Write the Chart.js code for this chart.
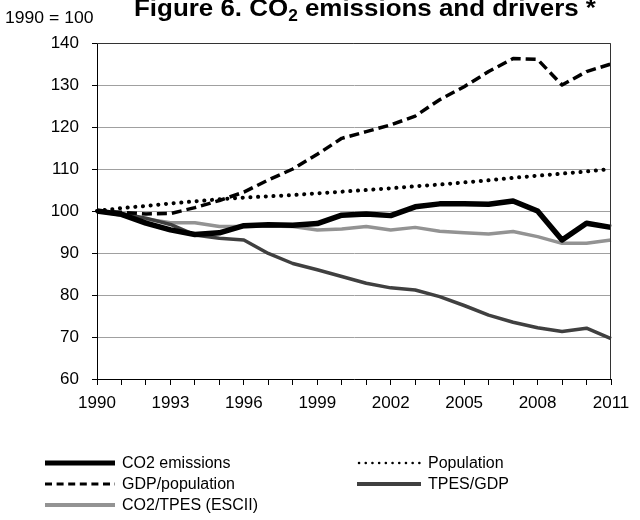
<!DOCTYPE html>
<html>
<head>
<meta charset="utf-8">
<script src="https://cdn.jsdelivr.net/npm/chart.js@4.4.1/dist/chart.umd.min.js"></script>
<style>
  body { margin: 0; background: #fff; font-family: "Liberation Sans", Arial, sans-serif; }
  #wrap { position: relative; width: 640px; height: 520px; overflow: hidden; }
  #chart { position: absolute; left: 0; top: 0; }
  #title { position: absolute; left: 0; width: 730px; top: -6px; text-align: center; font-weight: bold;
           font-size: 24px; color: #000; white-space: nowrap; transform: scaleX(1.08); transform-origin: 365px 0; }
  #title sub { font-size: 16px; vertical-align: -5px; line-height: 0; }
  #unit { position: absolute; left: 5px; top: 9px; font-size: 16px; color: #000; white-space: nowrap;
          transform: scaleX(1.1); transform-origin: 0 0; }
  .leg { position: absolute; font-size: 16px; color: #000; display: flex; align-items: center; height: 22px; white-space: nowrap; }
  .leg svg { margin-right: 7px; }
</style>
</head>
<body>
<div id="wrap">
  <canvas id="chart" width="640" height="520"></canvas>
  <div id="title">Figure 6. CO<sub>2</sub> emissions and drivers *</div>
  <div id="unit">1990 = 100</div>
  <div id="legend"></div>
</div>
<script>
const years = ["1990","1991","1992","1993","1994","1995","1996","1997","1998","1999","2000",
  "2001","2002","2003","2004","2005","2006","2007","2008","2009","2010","2011"];

const co2Emissions = [100, 99.2, 97.1, 95.5, 94.4, 94.8, 96.5, 96.7, 96.6, 97.0, 99.0,
  99.3, 98.9, 101.0, 101.7, 101.7, 101.6, 102.4, 100.0, 93.1, 97.1, 96.1];
const gdpPerPop = [100, 99.7, 99.3, 99.4, 100.8, 102.5, 104.5, 107.4, 110.0, 113.5, 117.3,
  118.9, 120.5, 122.6, 126.5, 129.6, 133.2, 136.3, 136.1, 130.0, 133.2, 135.0];
const population = [100, 100.7, 101.2, 101.8, 102.3, 102.8, 103.2, 103.5, 103.8, 104.2, 104.6,
  105.0, 105.4, 105.9, 106.3, 106.8, 107.3, 107.9, 108.4, 108.9, 109.4, 110.0];
const tpesPerGdp = [100, 99.4, 98.3, 96.8, 94.3, 93.5, 93.1, 89.9, 87.5, 86.0, 84.4,
  82.8, 81.7, 81.2, 79.6, 77.5, 75.2, 73.5, 72.2, 71.3, 72.1, 69.6];
const co2PerTpes = [100, 99.0, 98.1, 97.2, 97.2, 96.3, 96.3, 96.4, 96.3, 95.5, 95.7,
  96.3, 95.5, 96.1, 95.2, 94.8, 94.5, 95.1, 93.9, 92.3, 92.3, 93.1];

const yTicks = [60, 70, 80, 90, 100, 110, 120, 130, 140];

const seriesStyle = [
  { label: "CO2 emissions", data: co2Emissions, color: "#000000", width: 5.5, dash: [], cap: "butt" },
  { label: "GDP/population", data: gdpPerPop, color: "#000000", width: 3.5, dash: [10, 5], cap: "butt" },
  { label: "Population", data: population, color: "#000000", width: 4, dash: [0.1, 7.6], cap: "round" },
  { label: "TPES/GDP", data: tpesPerGdp, color: "#404040", width: 3.5, dash: [], cap: "butt" },
  { label: "CO2/TPES (ESCII)", data: co2PerTpes, color: "#939393", width: 3.5, dash: [], cap: "butt" }
];

const frame = {
  id: "frame",
  afterDatasetsDraw(chart) {
    const a = chart.chartArea, c = chart.ctx;
    c.save();
    c.strokeStyle = "#333";
    c.lineWidth = 1;
    c.beginPath();
    c.moveTo(a.left, a.top + 0.5);
    c.lineTo(a.right - 0.5, a.top + 0.5);
    c.lineTo(a.right - 0.5, a.bottom);
    c.stroke();
    c.restore();
  }
};

const tickFont = { family: "'Liberation Sans', Arial, sans-serif", size: 17 };

new Chart(document.getElementById("chart"), {
  type: "line",
  data: {
    labels: years,
    datasets: seriesStyle.map(s => ({
      label: s.label,
      data: s.data,
      borderColor: s.color,
      borderWidth: s.width,
      borderDash: s.dash,
      borderCapStyle: s.cap,
      borderJoinStyle: "round",
      pointRadius: 0,
      tension: 0,
      fill: false
    }))
  },
  options: {
    responsive: false,
    animation: false,
    layout: { padding: { left: 0, right: 29, top: 43, bottom: 0 } },
    plugins: { legend: { display: false }, tooltip: { enabled: false } },
    scales: {
      x: {
        offset: false,
        border: { color: "#000", width: 1 },
        grid: { drawOnChartArea: false, drawTicks: true, tickLength: 6, tickColor: "#000" },
        ticks: {
          autoSkip: false, maxRotation: 0, color: "#000", font: tickFont, padding: 8,
          callback: (v, i) => (i % 3 === 0 ? years[i] : "")
        },
        afterFit: s => { s.height = 141; }
      },
      y: {
        min: 60, max: 140,
        border: { color: "#000", width: 1 },
        grid: { color: "#a0a0a0", lineWidth: 1, tickLength: 5, tickColor: "#000" },
        afterBuildTicks: s => { s.ticks = yTicks.map(v => ({ value: v })); },
        ticks: { color: "#000", font: tickFont, padding: 13 },
        afterFit: s => { s.width = 97; }
      }
    }
  },
  plugins: [frame]
});

// legend drawn as html, two columns, first column holds three entries
const legendPos = [
  { x: 45, y: 452 }, { x: 45, y: 473 }, { x: 357, y: 452 }, { x: 357, y: 473 }, { x: 45, y: 494 }
];
const legendEl = document.getElementById("legend");
seriesStyle.forEach((s, idx) => {
  const p = legendPos[idx];
  const lw = idx === 2 ? 2.5 : idx === 0 ? 5 : idx === 1 ? 3 : 4;
  const dash = idx === 1 ? "7 4.6" : idx === 2 ? "0.1 6.6" : "none";
  const len = idx >= 2 && idx <= 3 ? 64 : 70;
  const d = document.createElement("div");
  d.className = "leg";
  d.style.left = p.x + "px";
  d.style.top = p.y + "px";
  d.innerHTML = `<svg width="${len}" height="10"><line x1="${idx === 2 ? 2 : 0}" y1="5" x2="${len}" y2="5" stroke="${s.color}" stroke-width="${lw}" stroke-dasharray="${dash}" stroke-linecap="${s.cap}"/></svg><span>${s.label}</span>`;
  legendEl.appendChild(d);
});
</script>
</body>
</html>
